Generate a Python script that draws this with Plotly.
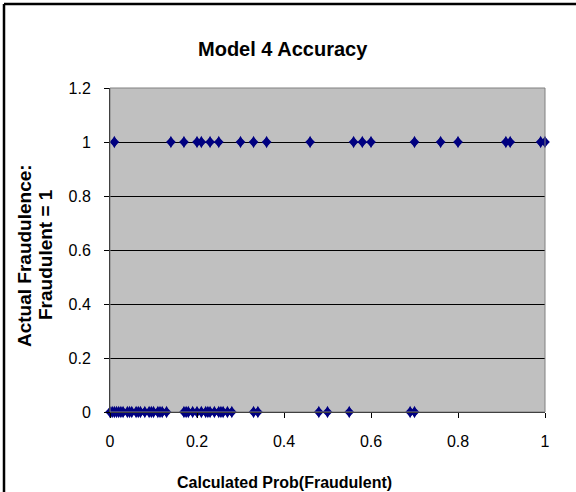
import plotly.graph_objects as go

# Calculated probability for records actually fraudulent (y = 1)
prob_fraud = [0.01, 0.14, 0.17, 0.20, 0.21, 0.23, 0.25, 0.30, 0.33, 0.36,
              0.46, 0.56, 0.58, 0.60, 0.70, 0.76, 0.80, 0.91, 0.92, 0.99, 1.00]
# Calculated probability for records actually not fraudulent (y = 0)
prob_legit = [0.0, 0.005, 0.01, 0.015, 0.02, 0.025, 0.03, 0.04, 0.045, 0.05,
              0.06, 0.065, 0.07, 0.08, 0.09, 0.095, 0.10, 0.11, 0.115, 0.12, 0.13,
              0.17, 0.175, 0.18, 0.19, 0.20, 0.21, 0.22, 0.225, 0.23, 0.24,
              0.25, 0.255, 0.26, 0.27, 0.28,
              0.33, 0.34, 0.48, 0.50, 0.55, 0.69, 0.70]

x_vals = prob_fraud + prob_legit
y_vals = [1] * len(prob_fraud) + [0] * len(prob_legit)

x_ticks = [0, 0.2, 0.4, 0.6, 0.8, 1]
x_tick_labels = ["0", "0.2", "0.4", "0.6", "0.8", "1"]
y_ticks = [0, 0.2, 0.4, 0.6, 0.8, 1, 1.2]
y_tick_labels = ["0", "0.2", "0.4", "0.6", "0.8", "1", "1.2"]

font = "Liberation Sans, Arial, sans-serif"

fig = go.Figure()
# two overlaid diamond shapes give a slightly tall diamond marker
fig.add_trace(go.Scatter(
    x=x_vals, y=y_vals, mode="markers",
    marker=dict(symbol="diamond", size=7.5, color="#000080"),
    cliponaxis=False, showlegend=False, hoverinfo="skip",
))
fig.add_trace(go.Scatter(
    x=x_vals, y=y_vals, mode="markers",
    marker=dict(symbol="diamond-tall", size=9, color="#000080"),
    cliponaxis=False, showlegend=False,
))

W, H = 576, 492
L, R, T, B = 110, 31, 88, 80
pw, ph = W - L - R, H - T - B

def px_to_paper_x(px):
    return (px - L) / pw

def px_to_paper_y(py):
    return (H - B - py) / ph

fig.update_layout(
    width=W, height=H,
    margin=dict(l=L, r=R, t=T, b=B),
    paper_bgcolor="white",
    plot_bgcolor="#C0C0C0",
    font=dict(family=font, size=16, color="black"),
    annotations=[
        dict(text="<b>Model 4 Accuracy</b>", xref="paper", yref="paper",
             x=px_to_paper_x(283), y=px_to_paper_y(49), xanchor="center", yanchor="middle",
             showarrow=False, font=dict(size=20, family=font)),
        dict(text="<b>Calculated Prob(Fraudulent)</b>", xref="paper", yref="paper",
             x=px_to_paper_x(284), y=px_to_paper_y(482), xanchor="center", yanchor="middle",
             showarrow=False, font=dict(size=16, family=font)),
        dict(text="<b>Actual Fraudulence:</b>", xref="paper", yref="paper",
             x=px_to_paper_x(24), y=px_to_paper_y(256), xanchor="center", yanchor="middle",
             showarrow=False, textangle=-90, font=dict(size=19, family=font)),
        dict(text="<b>Fraudulent = 1</b>", xref="paper", yref="paper",
             x=px_to_paper_x(45), y=px_to_paper_y(255), xanchor="center", yanchor="middle",
             showarrow=False, textangle=-90, font=dict(size=19, family=font)),
    ],
    shapes=[
        dict(type="rect", xref="paper", yref="paper",
             x0=0, x1=1, y0=0, y1=1, line=dict(color="#808080", width=1)),
        dict(type="line", xref="paper", yref="paper",
             x0=px_to_paper_x(4), x1=px_to_paper_x(4),
             y0=px_to_paper_y(4), y1=px_to_paper_y(500), line=dict(color="black", width=2.5)),
        dict(type="line", xref="paper", yref="paper",
             x0=px_to_paper_x(4), x1=px_to_paper_x(580),
             y0=px_to_paper_y(4), y1=px_to_paper_y(4), line=dict(color="black", width=2.5)),
    ],
)
fig.update_xaxes(
    range=[0, 1], tickvals=x_ticks, ticktext=x_tick_labels,
    showgrid=False, zeroline=False, showline=True, linecolor="black", linewidth=1,
    ticks="outside", ticklen=5, tickcolor="black", tickfont=dict(size=16),
    ticklabelstandoff=10,
)
fig.update_yaxes(
    range=[0, 1.2], tickvals=y_ticks, ticktext=y_tick_labels,
    showgrid=True, gridcolor="black", gridwidth=1, zeroline=False,
    showline=True, linecolor="black", linewidth=1,
    ticks="outside", ticklen=5, tickcolor="black", tickfont=dict(size=16),
    ticklabelstandoff=10,
)

fig.write_html("out.html")
